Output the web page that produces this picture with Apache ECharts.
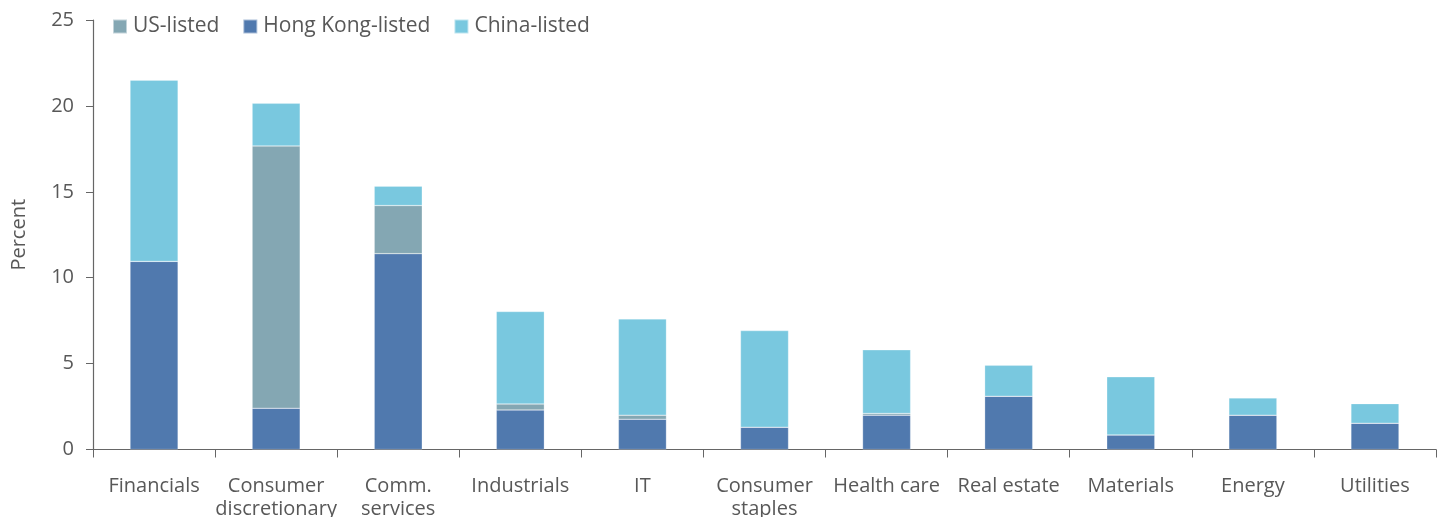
<!DOCTYPE html>
<html>
<head>
<meta charset="utf-8">
<script src="https://cdn.jsdelivr.net/npm/echarts@6/dist/echarts.min.js"></script>
<style>
html,body{margin:0;padding:0;background:#fff;}
#chart{width:1444px;height:517px;}
</style>
</head>
<body>
<div id="chart"></div>
<script>
const categories = ['Financials','Consumer\ndiscretionary','Comm.\nservices','Industrials','IT','Consumer\nstaples','Health care','Real estate','Materials','Energy','Utilities'];
const hongKongListed = [10.95, 2.4, 11.4, 2.3, 1.76, 1.3, 2.0, 3.1, 0.85, 2.0, 1.53];
const usListed = [0, 15.27, 2.8, 0.35, 0.24, 0, 0.1, 0, 0, 0, 0];
const chinaListed = [10.55, 2.48, 1.13, 5.38, 5.6, 5.62, 3.7, 1.8, 3.38, 1.0, 1.14];
const yTicks = [0, 5, 10, 15, 20, 25];

const FONT = 'Open Sans';
const TXT = '#585858';
const AX = '#666666';

const chart = echarts.init(document.getElementById('chart'));
const barStyle = {borderColor: 'rgba(255,255,255,0.5)', borderWidth: 0.5};
chart.setOption({
  animation: false,
  textStyle: {fontFamily: FONT},
  legend: {
    data: ['US-listed','Hong Kong-listed','China-listed'],
    left: 107, top: 11,
    icon: 'rect', itemWidth: 14, itemHeight: 14, itemGap: 23,
    textStyle: {color: TXT, fontSize: 21, fontFamily: FONT, padding: [0,0,0,1]}
  },
  grid: {left: 93, right: 8, top: 20, bottom: 67.5, containLabel: false, outerBoundsMode: 'none'},
  xAxis: {
    type: 'category',
    data: categories,
    axisLine: {lineStyle: {color: AX, width: 1.2}},
    axisTick: {show: true, length: 8, lineStyle: {color: AX}},
    axisLabel: {color: TXT, fontSize: 20, fontFamily: FONT, margin: 25, lineHeight: 23, interval: 0}
  },
  yAxis: {
    type: 'value',
    min: yTicks[0], max: yTicks[yTicks.length-1], interval: 5,
    name: 'Percent', nameLocation: 'middle', nameGap: 64,
    nameTextStyle: {color: TXT, fontSize: 20, fontFamily: FONT},
    axisLine: {show: true, lineStyle: {color: AX, width: 1.2}},
    axisTick: {show: true, length: 7, lineStyle: {color: AX}},
    splitLine: {show: false},
    axisLabel: {color: TXT, fontSize: 20, fontFamily: FONT, margin: 19}
  },
  series: [
    {name: 'Hong Kong-listed', type: 'bar', stack: 'total', data: hongKongListed, barWidth: 48, itemStyle: Object.assign({color: '#5079AE'}, barStyle)},
    {name: 'US-listed', type: 'bar', stack: 'total', data: usListed, barWidth: 48, itemStyle: Object.assign({color: '#84A7B3'}, barStyle)},
    {name: 'China-listed', type: 'bar', stack: 'total', data: chinaListed, barWidth: 48, itemStyle: Object.assign({color: '#79C8DF'}, barStyle)}
  ]
});
</script>
</body>
</html>
